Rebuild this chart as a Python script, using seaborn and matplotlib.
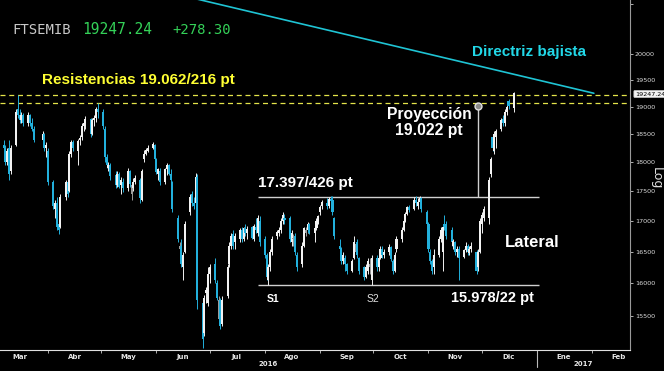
import numpy as np
import pandas as pd
import matplotlib
matplotlib.use("Agg")
import matplotlib.pyplot as plt
import matplotlib.dates as mdates
from matplotlib.ticker import FixedLocator, FuncFormatter, NullLocator, FixedFormatter
import matplotlib.transforms as mtrans
import seaborn as sns

# ---------------- data: (day, open, high, low, close) per month ----------------
mar_2016 = [(4, 18150, 18350, 18050, 18300), (7, 18300, 18400, 18150, 18250), (8, 18250, 18300, 17950, 18000),
            (9, 18000, 18250, 17950, 18200), (10, 18250, 18400, 17700, 17800), (11, 17850, 18300, 17800, 18250),
            (14, 18300, 18950, 18280, 18900), (15, 18950, 19216, 18800, 18850), (16, 18850, 18950, 18700, 18750),
            (17, 18750, 18900, 18700, 18850), (18, 18850, 18880, 18650, 18700), (21, 18700, 18900, 18650, 18850),
            (22, 18850, 18870, 18650, 18700), (23, 18700, 18800, 18550, 18600), (24, 18600, 18650, 18350, 18400),
            (29, 18400, 18550, 18350, 18500), (30, 18500, 18520, 18200, 18250), (31, 18250, 18350, 18100, 18300)]
apr_2016 = [(1, 18200, 18250, 17600, 17650), (4, 17650, 17700, 17200, 17250), (5, 17200, 17350, 17050, 17300),
            (6, 17300, 17400, 16850, 16900), (7, 16950, 17100, 16780, 16850), (8, 16900, 17450, 16880, 17400),
            (11, 17400, 17700, 17350, 17650), (12, 17650, 17700, 17400, 17450), (13, 17500, 18200, 17480, 18150),
            (14, 18150, 18400, 18100, 18350), (15, 18350, 18400, 18200, 18250), (18, 18200, 18420, 17950, 18380),
            (19, 18400, 18480, 18300, 18430), (20, 18450, 18700, 18400, 18650), (21, 18650, 18780, 18550, 18700),
            (22, 18700, 18830, 18600, 18780), (25, 18780, 18800, 18450, 18500), (26, 18500, 18800, 18480, 18750),
            (27, 18750, 18850, 18650, 18800), (28, 18800, 19000, 18720, 18950), (29, 18950, 19062, 18800, 18900)]
may_2016 = [(2, 18900, 18950, 18600, 18650), (3, 18600, 18650, 18000, 18100), (4, 18100, 18150, 17900, 17950),
            (5, 17900, 18000, 17850, 17960), (6, 17950, 17980, 17700, 17760), (9, 17780, 17850, 17550, 17600),
            (10, 17600, 17850, 17580, 17800), (11, 17800, 17830, 17550, 17580), (12, 17600, 17750, 17450, 17700),
            (13, 17650, 17720, 17480, 17550), (16, 17550, 17900, 17500, 17850), (17, 17850, 17870, 17580, 17620),
            (18, 17450, 17650, 17350, 17600), (19, 17550, 17720, 17500, 17650), (20, 17650, 17780, 17620, 17720),
            (23, 17700, 17720, 17300, 17380), (24, 17350, 17880, 17330, 17850), (25, 18050, 18220, 18000, 18150),
            (26, 18150, 18250, 18120, 18220), (27, 18200, 18300, 18180, 18260), (30, 18250, 18350, 18230, 18320),
            (31, 18300, 18330, 18000, 18050)]
jun_2016 = [(1, 18050, 18080, 17800, 17830), (2, 17800, 17900, 17700, 17880), (3, 17850, 17900, 17600, 17650),
            (6, 17650, 17900, 17630, 17880), (7, 17880, 17980, 17780, 17950), (8, 17950, 17970, 17780, 17800),
            (9, 17800, 17880, 17650, 17700), (10, 17650, 17680, 17150, 17200), (13, 17050, 17100, 16650, 16700),
            (14, 16550, 16650, 16400, 16600), (15, 16600, 16700, 16250, 16300), (16, 16250, 16500, 16050, 16450),
            (17, 16500, 17000, 16480, 16950), (20, 17150, 17450, 17100, 17400), (21, 17450, 17500, 17250, 17300),
            (22, 17300, 17400, 17200, 17250), (23, 17300, 17820, 17280, 17750), (24, 17750, 17800, 15600, 15750),
            (27, 15700, 15760, 15020, 15150), (28, 15250, 15820, 15200, 15780), (29, 15850, 15950, 15700, 15900),
            (30, 15700, 16250, 15650, 16150)]
jul_2016 = [(1, 16150, 16300, 16000, 16250), (4, 16300, 16400, 16000, 16050), (5, 16000, 16050, 15750, 15780),
            (6, 15450, 15800, 15400, 15750), (7, 15750, 15780, 15300, 15350), (8, 15380, 15800, 15350, 15750),
            (11, 15800, 16300, 15780, 16250), (12, 16300, 16650, 16250, 16600), (13, 16600, 16800, 16550, 16750),
            (14, 16780, 16850, 16550, 16600), (15, 16650, 16800, 16550, 16750), (18, 16700, 16880, 16650, 16850),
            (19, 16850, 16900, 16650, 16700), (20, 16700, 16900, 16680, 16880), (21, 16880, 16950, 16750, 16800),
            (22, 16800, 16920, 16700, 16870), (25, 16900, 16920, 16700, 16720), (26, 16700, 16950, 16680, 16920),
            (27, 16900, 17050, 16800, 16850), (28, 16800, 17100, 16750, 17050), (29, 17000, 17080, 16600, 16650)]
aug_2016 = [(1, 16700, 16750, 16400, 16450), (2, 16450, 16480, 16050, 16100), (3, 16050, 16300, 15978, 16250),
            (4, 16250, 16550, 16200, 16500), (5, 16500, 16750, 16450, 16700), (8, 16750, 16850, 16700, 16820),
            (9, 16800, 16900, 16750, 16850), (10, 16850, 17050, 16800, 17000), (11, 17000, 17150, 16950, 17100),
            (12, 17050, 17120, 16950, 17020), (15, 17050, 17080, 16650, 16700), (16, 16650, 16850, 16600, 16800),
            (17, 16700, 16780, 16600, 16720), (18, 16750, 16800, 16450, 16500), (19, 16450, 16500, 16200, 16250),
            (22, 16300, 16650, 16250, 16600), (23, 16600, 16900, 16580, 16880), (24, 16800, 16900, 16750, 16850),
            (25, 16850, 16980, 16800, 16950), (26, 16950, 16970, 16780, 16800), (29, 16800, 16900, 16650, 16880),
            (30, 16880, 17050, 16850, 17000), (31, 17000, 17100, 16950, 17080)]
sep_2016 = [(1, 17150, 17260, 17100, 17230), (2, 17250, 17350, 17200, 17320), (5, 17300, 17380, 17200, 17250),
            (6, 17250, 17400, 17220, 17370), (7, 17370, 17420, 17280, 17330), (8, 17350, 17426, 17100, 17150),
            (9, 17050, 17060, 16700, 16750), (12, 16600, 16700, 16450, 16550), (13, 16550, 16580, 16300, 16350),
            (14, 16350, 16500, 16300, 16450), (15, 16400, 16450, 16200, 16300), (16, 16300, 16320, 16150, 16200),
            (19, 16200, 16380, 16180, 16350), (20, 16400, 16750, 16380, 16650), (21, 16500, 16650, 16480, 16620),
            (22, 16650, 16700, 16400, 16450), (23, 16400, 16420, 16150, 16200), (26, 16250, 16280, 16050, 16100),
            (27, 16100, 16300, 16080, 16250), (28, 16200, 16400, 16150, 16350), (29, 16250, 16400, 16150, 16300),
            (30, 16050, 16450, 15978, 16400)]
oct_2016 = [(3, 16400, 16450, 16200, 16250), (4, 16250, 16450, 16200, 16400), (5, 16400, 16600, 16380, 16550),
            (6, 16550, 16600, 16400, 16450), (7, 16450, 16550, 16400, 16500), (10, 16500, 16620, 16450, 16580),
            (11, 16580, 16600, 16350, 16380), (12, 16350, 16380, 16150, 16200), (13, 16200, 16500, 16180, 16450),
            (14, 16550, 16750, 16500, 16700), (17, 16700, 16900, 16650, 16850), (18, 16850, 17050, 16830, 17000),
            (19, 17000, 17150, 16980, 17120), (20, 17120, 17250, 17100, 17230), (21, 17230, 17260, 17150, 17180),
            (24, 17200, 17397, 17180, 17350), (25, 17350, 17420, 17250, 17300), (26, 17250, 17380, 17200, 17320),
            (27, 17320, 17426, 17300, 17380), (28, 17380, 17400, 17150, 17200), (31, 17150, 17180, 16900, 16950)]
nov_2016 = [(1, 16950, 16980, 16500, 16550), (2, 16500, 16550, 16300, 16350), (3, 16350, 16380, 16150, 16200),
            (4, 16250, 16550, 16150, 16450), (7, 16450, 16750, 16420, 16700), (8, 16700, 16900, 16650, 16850),
            (9, 16500, 16950, 16200, 16900), (10, 16950, 17100, 16850, 16900), (11, 16950, 17000, 16700, 16750),
            (14, 16850, 16900, 16600, 16650), (15, 16600, 16700, 16550, 16680), (16, 16650, 16680, 16450, 16500),
            (17, 16500, 16600, 16420, 16550), (18, 16550, 16600, 16050, 16400), (21, 16420, 16550, 16400, 16520),
            (22, 16520, 16650, 16500, 16600), (23, 16600, 16620, 16450, 16500), (24, 16480, 16600, 16450, 16550),
            (25, 16550, 16650, 16500, 16600), (28, 16500, 16520, 16150, 16200), (29, 16250, 16550, 16200, 16500),
            (30, 16500, 17050, 16480, 17000)]
dec_2016 = [(1, 16950, 17150, 16800, 17100), (2, 17050, 17250, 17000, 17200), (5, 17050, 17750, 16950, 17700),
            (6, 17800, 18100, 17750, 18050), (7, 18450, 18500, 18200, 18250), (8, 18200, 18550, 18150, 18500),
            (9, 18450, 18600, 18250, 18550), (12, 18600, 18800, 18550, 18750), (13, 18780, 18850, 18650, 18700),
            (14, 18700, 18950, 18650, 18900), (15, 18900, 19050, 18850, 19000), (16, 19100, 19150, 18950, 19020),
            (19, 18970, 19280, 18900, 19247.24)]

months = [(2016, 3, mar_2016), (2016, 4, apr_2016), (2016, 5, may_2016), (2016, 6, jun_2016),
          (2016, 7, jul_2016), (2016, 8, aug_2016), (2016, 9, sep_2016), (2016, 10, oct_2016),
          (2016, 11, nov_2016), (2016, 12, dec_2016)]

month_labels = ["Mar", "Abr", "May", "Jun", "Jul", "Ago", "Sep", "Oct", "Nov", "Dic", "Ene", "Feb"]
y_ticks = [15500, 16000, 16500, 17000, 17500, 18000, 18500, 19000, 19500, 20000, 21000]

resist_levels = [19216, 19062]
range_top, range_bottom = 17397, 15978
projection = 19022
last_price = 19247.24
change = 278.30
trend_dates = ["2016-06-20", "2017-02-02"]
trend_values = [21130, 19250]

# ---------------- build frame ----------------
rows = []
for yr, mo, lst in months:
    for d, o, h, l, c in lst:
        rows.append((pd.Timestamp(yr, mo, d), o, h, l, c))
df = pd.DataFrame(rows, columns=["date", "open", "high", "low", "close"])
df["x"] = mdates.date2num(df["date"])
prev = df["close"].shift(1).fillna(df["open"])
WHITE, CYAN, GRAY = "#f2f2f2", "#22b0dc", "#9c9c9c"
cols = np.where(df["close"] < df["open"], CYAN, np.where(df["close"] < prev, GRAY, WHITE))

# ---------------- figure ----------------
sns.set_theme(style="dark", rc={"axes.facecolor": "black", "figure.facecolor": "black"})
W, H = 664, 371
fig = plt.figure(figsize=(W / 100, H / 100), dpi=100)
fig.patch.set_facecolor("black")
ax = fig.add_axes([0, 21 / H, 630 / W, 350 / H])
ax.set_facecolor("black")

def px(x, y):
    return x / W, 1 - y / H

ax.set_yscale("log")
ax.set_ylim(14996, 21078)
x0 = mdates.date2num(pd.Timestamp("2016-03-05"))
x1 = mdates.date2num(pd.Timestamp("2017-02-22 08:00"))
ax.set_xlim(x0, x1)

# candles
ax.vlines(df["x"], df["low"], df["high"], colors=cols, linewidth=0.7, zorder=3)
body_lo = np.minimum(df["open"], df["close"])
body_h = np.abs(df["close"] - df["open"]).clip(lower=20)
ax.bar(df["x"], body_h, bottom=body_lo, width=1.15, color=cols, linewidth=0, zorder=4)

# resistance dashed lines
for lv in resist_levels:
    ax.axhline(lv, color="#e4e44a", linewidth=0.9, dashes=(4, 3), zorder=2)

# trend line (seaborn)
trend = pd.DataFrame({"date": mdates.date2num(pd.to_datetime(trend_dates)), "v": trend_values})
sns.lineplot(data=trend, x="date", y="v", ax=ax, color="#1fc4d4", linewidth=1.2, zorder=2)

# lateral range lines
lx0 = mdates.date2num(pd.Timestamp("2016-07-28"))
lx1 = mdates.date2num(pd.Timestamp("2017-01-02"))
ax.hlines([range_top, range_bottom], lx0, lx1, colors="#d0d0d0", linewidth=1.0, zorder=2)

# projection
pxd = mdates.date2num(pd.Timestamp("2016-11-29"))
ax.vlines(pxd, range_top, projection, colors="#d0d0d0", linewidth=1.0, zorder=2)
ax.plot([pxd], [projection], marker="o", markersize=5, markerfacecolor="#8a8a8a",
        markeredgecolor="#e0e0e0", markeredgewidth=1.0, zorder=5)

# axes styling
for s in ["top", "left"]:
    ax.spines[s].set_visible(False)
ax.spines["right"].set_visible(True)
ax.spines["right"].set_color("#9a9a9a")
ax.spines["right"].set_linewidth(0.8)
ax.spines["bottom"].set_visible(True)
ax.spines["bottom"].set_color("#e0e0e0")
ax.spines["bottom"].set_linewidth(0.8)
ax.grid(False)

ax.yaxis.tick_right()
ax.yaxis.set_major_locator(FixedLocator(y_ticks))
ax.yaxis.set_major_formatter(FuncFormatter(lambda v, p: "" if v > 20500 else f"{int(round(v))}"))
ax.yaxis.set_minor_locator(NullLocator())
ax.tick_params(axis="y", which="major", right=True, left=False, length=2.5, width=0.6,
               color="#cccccc", labelsize=4.6, labelcolor="#dddddd", pad=1)
ax.set_ylabel("")
ax.set_xlabel("")

month_starts = pd.date_range("2016-04-01", "2017-02-01", freq="MS")
mid_months = pd.date_range("2016-03-01", "2017-02-01", freq="MS") + pd.Timedelta(days=15)
ax.xaxis.set_major_locator(FixedLocator(mdates.date2num(month_starts)))
ax.xaxis.set_major_formatter(FixedFormatter([""] * len(month_starts)))
ax.xaxis.set_minor_locator(FixedLocator(mdates.date2num(mid_months)))
ax.xaxis.set_minor_formatter(FixedFormatter(month_labels))
ax.tick_params(axis="x", which="major", bottom=True, length=2.5, width=0.6, color="#cccccc")
ax.tick_params(axis="x", which="minor", bottom=True, length=0, labelsize=5, labelcolor="#e6e6e6", pad=3)
for t in ax.xaxis.get_minorticklabels():
    t.set_fontweight("bold")

# year separator
trans = mtrans.blended_transform_factory(ax.transData, ax.transAxes)
jan = mdates.date2num(pd.Timestamp("2017-01-01"))
ax.plot([jan, jan], [0, -0.048], transform=trans, color="#bbbbbb", linewidth=0.8, clip_on=False)

fig.text(*px(268, 364), "2016", fontsize=5, color="#e6e6e6", ha="center", va="center", fontweight="bold")
fig.text(*px(583, 364), "2017", fontsize=5, color="#e6e6e6", ha="center", va="center", fontweight="bold")

# price tag and Log label
fig.text(*px(635, 94), f"{last_price:.2f}", fontsize=4.6, color="black", ha="left", va="center",
         bbox=dict(boxstyle="round,pad=0.18", fc="#f4f4f4", ec="#bbbbbb", lw=0.5))
fig.text(*px(656, 178), "Log", fontsize=9, color="#e0e0e0", ha="center", va="center", rotation=-90)

# header
mono = "DejaVu Sans Mono"
fig.text(*px(12, 30), "FTSEMIB", fontsize=10, color="#c8c8c8", family=mono, ha="left", va="center")
fig.text(*px(82, 30), f"{last_price:.2f}", fontsize=10.5, color="#34d158", family=mono, ha="left", va="center")
fig.text(*px(172, 30), f"+{change:.2f}", fontsize=10, color="#34d158", family=mono, ha="left", va="center")

# annotations
bold = dict(family="Liberation Sans", fontweight="bold", va="center")
fig.text(*px(42, 80), "Resistencias 19.062/216 pt", fontsize=11, color="#ffff33", ha="left", **bold)
fig.text(*px(472, 52), "Directriz bajista", fontsize=11, color="#22d8e8", ha="left", **bold)
fig.text(*px(429, 115), "Proyección", fontsize=11.3, color="white", ha="center", **bold)
fig.text(*px(429, 130), "19.022 pt", fontsize=11.3, color="white", ha="center", **bold)
fig.text(*px(258, 183), "17.397/426 pt", fontsize=11, color="white", ha="left", **bold)
fig.text(*px(505, 242), "Lateral", fontsize=12, color="white", ha="left", **bold)
fig.text(*px(451, 298), "15.978/22 pt", fontsize=10.5, color="white", ha="left", **bold)
fig.text(*px(267, 299), "S1", fontsize=7.5, color="white", ha="left", **bold)
fig.text(*px(367, 299), "S2", fontsize=7.5, color="#e0e0e0", ha="left", va="center", family="Liberation Sans")

fig.savefig("out.png", dpi=100, facecolor="black")
